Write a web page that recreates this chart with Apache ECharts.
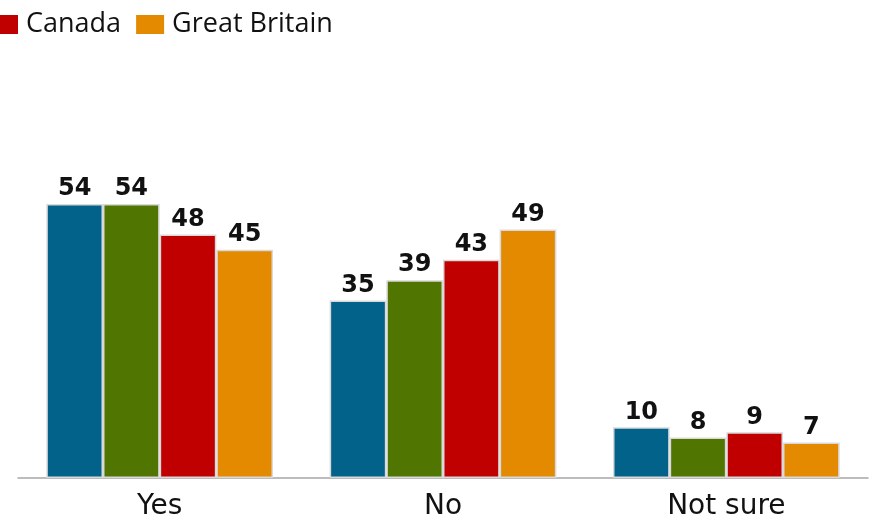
<!DOCTYPE html>
<html>
<head>
<meta charset="utf-8">
<script src="https://cdn.jsdelivr.net/npm/echarts@6/dist/echarts.min.js"></script>
<style>html,body{margin:0;padding:0;background:#fff;}#chart{width:870px;height:521px;}</style>
</head>
<body>
<div id="chart"></div>
<script>
var categories = ['Yes', 'No', 'Not sure'];
var seriesNames = ['Series 1', 'Series 2', 'Canada', 'Great Britain'];
var seriesA = [54, 35, 10];
var seriesB = [54, 39, 8];
var canada = [48, 43, 9];
var greatBritain = [45, 49, 7];
var legendItems = ['Canada', 'Great Britain'];
var colors = ['#03628a', '#507500', '#c00000', '#e38a00'];

var values = [seriesA, seriesB, canada, greatBritain];
var chart = echarts.init(document.getElementById('chart'));
chart.setOption({
  animation: false,
  backgroundColor: '#ffffff',
  legend: {
    data: legendItems,
    left: -15,
    top: 6,
    icon: 'rect',
    itemWidth: 28,
    itemHeight: 19,
    itemGap: 15,
    itemStyle: { borderWidth: 0 },
    textStyle: { fontFamily: 'Open Sans', fontSize: 27, color: '#111', padding: [6, 0, 0, 3] }
  },
  grid: { left: 18, right: 2, top: 173.6, bottom: 38.5 },
  xAxis: {
    type: 'category',
    data: categories,
    axisTick: { show: false },
    axisLine: { lineStyle: { color: '#a6a6a6', width: 1.5 } },
    axisLabel: { fontFamily: 'DejaVu Sans', fontSize: 28, color: '#111', margin: 15 }
  },
  yAxis: { type: 'value', min: 0, max: 60, show: false, splitLine: { show: false } },
  series: values.map(function (v, i) {
    return {
      name: seriesNames[i],
      type: 'bar',
      data: v,
      barGap: '0%',
      barCategoryGap: '20%',
      itemStyle: { color: colors[i], borderColor: '#d9d9d9', borderWidth: 1.5 },
      label: {
        show: true, position: 'top', distance: 3,
        fontFamily: 'DejaVu Sans', fontWeight: 'bold', fontSize: 24, color: '#111'
      }
    };
  })
});
</script>
</body>
</html>
